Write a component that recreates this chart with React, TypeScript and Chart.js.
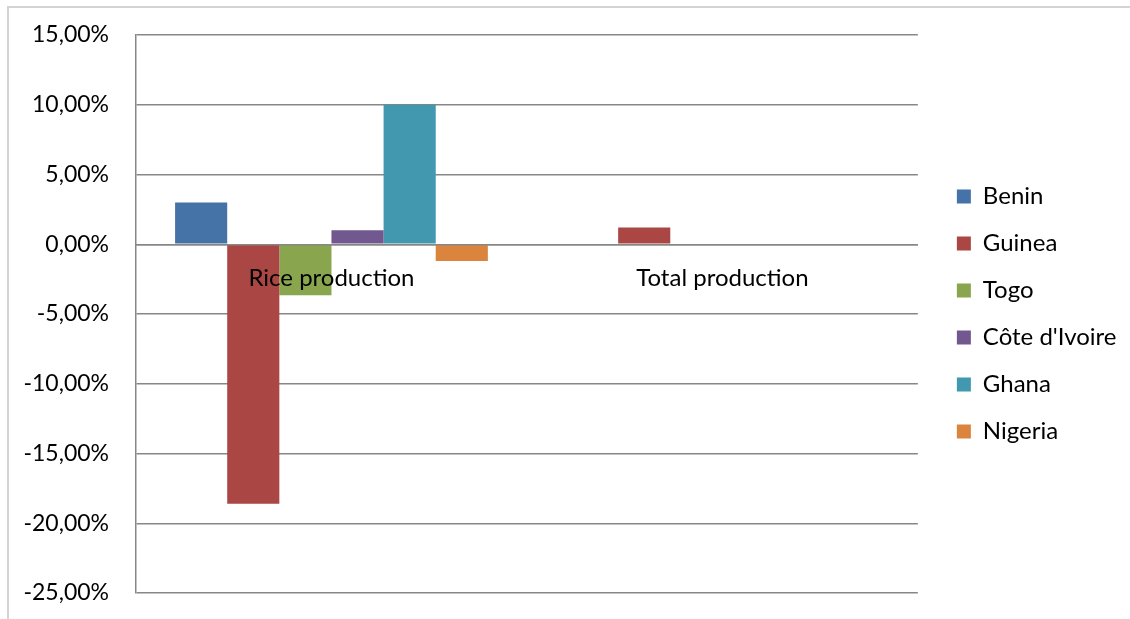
import React, { useEffect, useRef } from "react";
import { Chart, registerables } from "chart.js";

Chart.register(...registerables);

// Change in production, in percent
const categories = ["Rice production", "Total production"];
const countries = ["Benin", "Guinea", "Togo", "Côte d'Ivoire", "Ghana", "Nigeria"];
const benin = [3.0, -0.05];
const guinea = [-18.6, 1.2];
const togo = [-3.65, 0];
const coteDivoire = [1.0, 0];
const ghana = [10.0, 0];
const nigeria = [-1.2, 0];
const seriesValues = [benin, guinea, togo, coteDivoire, ghana, nigeria];
const seriesColors = ["#4572a7", "#aa4643", "#89a54e", "#71588f", "#4198af", "#db843d"];
const yTicks = [15, 10, 5, 0, -5, -10, -15, -20, -25];

const FONT_FAMILY = "Lato, 'Noto Sans', sans-serif";
const TICK_SIZE = 23;
const LABEL_SIZE = 24;
const GRID_COLOR = "#878787";

const formatPct = (v: number) => v.toFixed(2).replace(".", ",") + "%";

// light outer frame along the top and left edges
const framePlugin = {
  id: "frame",
  beforeDraw(chart: any) {
    const { ctx } = chart;
    ctx.save();
    ctx.fillStyle = "#d4d4d4";
    ctx.fillRect(7, 6, 2, chart.height - 6);
    ctx.fillRect(7, 6, chart.width - 7, 2);
    ctx.restore();
  },
};

export default function App() {
  const canvasRef = useRef<HTMLCanvasElement | null>(null);

  useEffect(() => {
    const canvas = canvasRef.current;
    if (!canvas) return;

    // legend width: padding + box + half font + longest label
    const measure = document.createElement("canvas").getContext("2d")!;
    measure.font = `${LABEL_SIZE}px ${FONT_FAMILY}`;
    const maxText = Math.max(...countries.map((c) => measure.measureText(c).width));
    const legendPad = 23;
    const legendWidth = legendPad + 14 + LABEL_SIZE / 2 + maxText;
    const legendLeft = 932;
    const padRight = Math.max(0, 1130 - legendLeft - legendWidth - 6);

    const chart = new Chart(canvas, {
      type: "bar",
      data: {
        labels: categories,
        datasets: countries.map((name, i) => ({
          label: name,
          data: seriesValues[i],
          backgroundColor: seriesColors[i],
          borderWidth: 0,
          categoryPercentage: 0.8,
          barPercentage: 1.0,
        })),
      },
      options: {
        animation: false,
        responsive: false,
        maintainAspectRatio: false,
        devicePixelRatio: 1,
        layout: { padding: { top: 35, bottom: 26, left: 0, right: padRight } },
        plugins: {
          tooltip: { enabled: false },
          legend: {
            position: "right",
            align: "center",
            labels: {
              boxWidth: 14,
              boxHeight: 14,
              padding: legendPad,
              color: "#000",
              font: { family: FONT_FAMILY, size: LABEL_SIZE },
            },
          },
        },
        scales: {
          // category axis sits on the zero line, its labels painted over the bars
          x: {
            position: { y: 0 } as any,
            grid: { display: false, drawTicks: false },
            border: { display: true, color: GRID_COLOR, width: 1.5, z: 1 },
            ticks: {
              z: 1,
              color: "#000",
              padding: 20,
              font: { family: FONT_FAMILY, size: LABEL_SIZE },
            },
          },
          y: {
            position: "left",
            min: -25,
            max: 15,
            afterBuildTicks: (scale: any) => {
              scale.ticks = yTicks.map((v) => ({ value: v }));
            },
            afterFit: (scale: any) => {
              scale.width = 136;
            },
            // invisible tick marks keep the labels clear of the axis line
            grid: {
              color: GRID_COLOR,
              lineWidth: 1.5,
              drawTicks: true,
              tickLength: 27,
              tickColor: "rgba(0,0,0,0)",
            },
            border: { display: true, color: GRID_COLOR, width: 1.5 },
            ticks: {
              color: "#000",
              padding: 0,
              font: { family: FONT_FAMILY, size: TICK_SIZE },
              callback: (v: any) => formatPct(Number(v)),
            },
          },
          // spacer between plot area and legend
          y2: {
            position: "right",
            display: true,
            grid: { display: false, drawTicks: false },
            border: { display: false },
            ticks: { display: false },
            afterFit: (scale: any) => {
              scale.width = 16;
            },
          },
        },
      },
      plugins: [framePlugin],
    });

    return () => chart.destroy();
  }, []);

  return (
    <div style={{ position: "fixed", left: 0, top: 0, width: 1130, height: 619, background: "#fff" }}>
      <canvas ref={canvasRef} width={1130} height={619} style={{ width: 1130, height: 619, display: "block" }} />
    </div>
  );
}
